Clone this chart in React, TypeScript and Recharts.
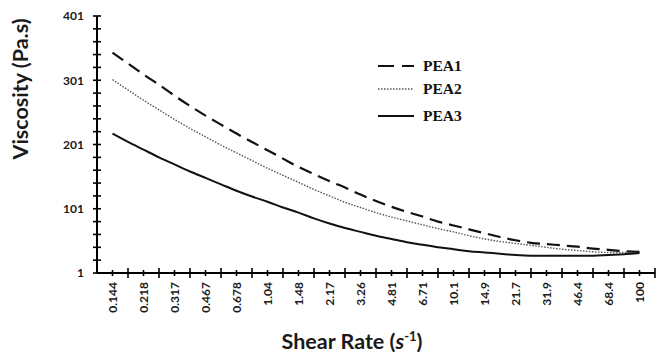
import React from "react";
import { LineChart, Line, XAxis, YAxis, Legend } from "recharts";

const shearRateLabels = ["0.144", "0.218", "0.317", "0.467", "0.678", "1.04", "1.48", "2.17", "3.26", "4.81", "6.71", "10.1", "14.9", "21.7", "31.9", "46.4", "68.4", "100"];

const pea1 = [344, 327, 310, 294, 277, 261, 246, 232, 218, 205, 192, 179, 166, 155, 144, 134, 123, 113, 104, 96, 89, 81, 75, 69, 63, 57, 52, 48, 46, 44, 42, 39, 37, 35, 34];
const pea2 = [302, 286, 270, 255, 240, 226, 213, 200, 188, 176, 164, 153, 142, 131, 121, 111, 103, 95, 88, 82, 76, 70, 65, 59, 54, 50, 47, 44, 41, 38, 36, 34, 33, 33, 33];
const pea3 = [218, 205, 193, 181, 170, 159, 149, 139, 129, 120, 112, 103, 95, 86, 78, 71, 65, 59, 54, 49, 45, 41, 38, 35, 33, 31, 29, 28, 28, 28, 28, 28, 29, 30, 32];

const seriesNames = ["PEA1", "PEA2", "PEA3"];
const yTicks = [1, 21, 41, 61, 81, 101, 121, 141, 161, 181, 201, 221, 241, 261, 281, 301, 321, 341, 361, 381, 401];
const yLabeledTicks = [1, 101, 201, 301, 401];

const data = pea1.map((v, i) => ({ idx: i, PEA1: v, PEA2: pea2[i], PEA3: pea3[i] }));
const xTicks = Array.from({ length: 36 }, (_, i) => i);

const seriesStyle: Record<string, any> = {
  PEA1: { stroke: "#111", strokeWidth: 2.2, strokeDasharray: "13 7" },
  PEA2: { stroke: "#555", strokeWidth: 1.4, strokeDasharray: "1.5 1.5" },
  PEA3: { stroke: "#111", strokeWidth: 2 },
};

const XTick = (props: any) => {
  const { x, y, payload } = props;
  const i = payload.value;
  const label = i % 2 === 0 ? shearRateLabels[i / 2] : undefined;
  const half = i % 2 === 0 ? 3 : 5;
  return (
    <g>
      <line x1={x} x2={x} y1={y - half} y2={y + half} stroke="#000" strokeWidth={1.6} />
      {label && (
        <text
          x={x}
          y={y + 9}
          transform={`rotate(-90 ${x} ${y + 9})`}
          textAnchor="end"
          dy="0.36em"
          fontSize={12}
          fontWeight="bold"
          fontFamily="Lato"
          fill="#1a1a1a"
        >
          {label}
        </text>
      )}
    </g>
  );
};

const YTick = (props: any) => {
  const { x, y, payload } = props;
  const v = payload.value;
  const labeled = yLabeledTicks.includes(v);
  return (
    <g>
      <line x1={x - 4} x2={x + 4} y1={y} y2={y} stroke="#000" strokeWidth={1.6} />
      {labeled && (
        <text x={x - 13} y={y} dy="0.36em" textAnchor="end" fontSize={12} fontWeight="bold" fontFamily="Lato" fill="#1a1a1a">
          {v}
        </text>
      )}
    </g>
  );
};

const XTitle = () => (
  <text x={352} y={349} textAnchor="middle" fontSize={21.5} fontWeight="bold" fontFamily="Lato" fill="#1a1a1a">
    Shear Rate (<tspan fontStyle="italic">s</tspan>
    <tspan dy={-8} fontSize={13}>-1</tspan>
    <tspan dy={8}>)</tspan>
  </text>
);

const YTitle = () => (
  <text x={28} y={89} transform="rotate(-90 28 89)" textAnchor="middle" fontSize={21.5} fontWeight="bold" fontFamily="Lato" fill="#1a1a1a">
    Viscosity (Pa.s)
  </text>
);

const legendTops = [0, 23, 50];

const LegendContent = () => (
  <div style={{ position: "relative", width: 120, height: 80 }}>
    {seriesNames.map((name, k) => {
      const st = seriesStyle[name];
      return (
        <div key={name} style={{ position: "absolute", left: 0, top: legendTops[k], height: 20, display: "flex", alignItems: "center" }}>
          <svg width={36} height={20} style={{ display: "block" }}>
            <line x1={0} x2={36} y1={10} y2={10} stroke={st.stroke} strokeWidth={st.strokeWidth} strokeDasharray={name === "PEA1" ? "16 8" : st.strokeDasharray} />
          </svg>
          <span style={{ marginLeft: 9, fontFamily: "Liberation Serif", fontWeight: "bold", fontSize: 15.5, color: "#111", lineHeight: "20px" }}>{name}</span>
        </div>
      );
    })}
  </div>
);

export default function App() {
  return (
    <div style={{ position: "absolute", left: 0, top: 0, background: "#fff" }}>
      <LineChart width={656} height={355} data={data} margin={{ top: 16, right: 1, left: 0, bottom: 0 }}>
        <XAxis
          dataKey="idx"
          type="number"
          domain={[-1, 35]}
          ticks={xTicks}
          interval={0}
          tick={<XTick />}
          tickSize={0}
          tickMargin={0}
          tickLine={false}
          axisLine={{ stroke: "#000", strokeWidth: 2 }}
          height={82}
          allowDataOverflow
          label={{ content: () => <XTitle /> }}
        />
        <YAxis
          type="number"
          domain={[1, 401]}
          ticks={yTicks}
          interval={0}
          tick={<YTick />}
          tickSize={0}
          tickMargin={0}
          tickLine={false}
          axisLine={{ stroke: "#000", strokeWidth: 2 }}
          width={97}
          allowDataOverflow
          label={{ content: () => <YTitle /> }}
        />
        <Legend
          layout="vertical"
          align="center"
          verticalAlign="middle"
          content={() => <LegendContent />}
          wrapperStyle={{ left: 378, top: 56, width: 130, height: 80 }}
        />
        {seriesNames.map((name) => (
          <Line
            key={name}
            type="monotone"
            dataKey={name}
            dot={false}
            activeDot={false}
            isAnimationActive={false}
            {...seriesStyle[name]}
          />
        ))}
      </LineChart>
    </div>
  );
}
